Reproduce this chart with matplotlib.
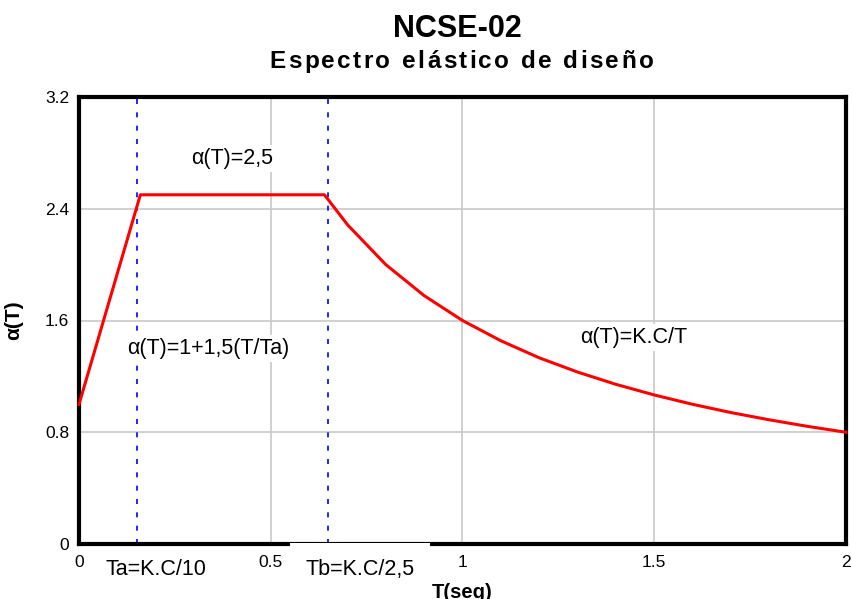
import matplotlib.pyplot as plt
import numpy as np

# Spectrum polyline (T in seconds, alpha)
T_VALUES = [0.0, 0.16, 0.64, 0.7, 0.8, 0.9, 1.0, 1.1, 1.2, 1.3, 1.4, 1.5, 1.6, 1.7, 1.8, 1.9, 2.0]
ALPHA_VALUES = [1.0, 2.5, 2.5, 2.286, 2.0, 1.778, 1.6, 1.455, 1.333, 1.231, 1.143, 1.067, 1.0,
                0.941, 0.889, 0.842, 0.8]

TA_LINE = 0.15
TB_LINE = 0.65

X_TICKS = [0, 0.5, 1, 1.5, 2]
X_TICK_LABELS = ["0", "0.5", "1", "1.5", "2"]
Y_TICKS = [0, 0.8, 1.6, 2.4, 3.2]
Y_TICK_LABELS = ["0", "0.8", "1.6", "2.4", "3.2"]

TITLE = "NCSE-02"
SUBTITLE = "Espectro elástico de diseño"

plt.rcParams["font.family"] = ["Liberation Sans", "DejaVu Sans"]


def spaced_text(fig, xc, y, text, extra_px, **kw):
    # draw text char by char with some extra tracking, centred on xc (figure fraction)
    renderer = fig.canvas.get_renderer()
    fig_w = fig.bbox.width
    widths = []
    for ch in text:
        probe = fig.text(0, 0, ch if ch != " " else "a a", **kw)
        w = probe.get_window_extent(renderer).width
        if ch == " ":
            w -= 2 * fig.text(0, 0, "a", **kw).get_window_extent(renderer).width
            fig.texts[-1].remove()
        widths.append(w)
        probe.remove()
    total = sum(widths) + extra_px * (len(text) - 1)
    x = xc * fig_w - total / 2
    for ch, w in zip(text, widths):
        fig.text(x / fig_w, y, ch, ha="left", va="center", **kw)
        x += w + extra_px


fig = plt.figure(figsize=(8.53, 5.99), dpi=100)
ax = fig.add_axes([79 / 853, 55 / 599, 767 / 853, 447 / 599])

ax.set_xlim(0, 2)
ax.set_ylim(0, 3.2)
ax.set_xticks(X_TICKS)
ax.set_xticklabels(X_TICK_LABELS)
ax.set_yticks(Y_TICKS)
ax.set_yticklabels(Y_TICK_LABELS)
ax.tick_params(axis="x", length=0, labelsize=12.5, pad=8)
ax.tick_params(axis="y", length=0, labelsize=12.5, pad=7)
ax.grid(True, color="#c8c8c8", linewidth=1.2)
ax.set_axisbelow(True)
for spine in ax.spines.values():
    spine.set_linewidth(3)
    spine.set_zorder(3)

ax.axvline(TA_LINE, color="blue", linestyle=(0, (3, 5)), linewidth=1.2, zorder=2)
ax.axvline(TB_LINE, color="blue", linestyle=(0, (3, 5)), linewidth=1.2, zorder=2)

ax.plot(T_VALUES, ALPHA_VALUES, color="red", linewidth=2.2, zorder=4, clip_on=False)

box = dict(facecolor="white", edgecolor="none", pad=2)
ax.text(0.40, 2.76, "α(T)=2,5", fontsize=15.5, ha="center", va="center", bbox=box, zorder=2.5)
ax.text(0.338, 1.40, "α(T)=1+1,5(T/Ta)", fontsize=15.5, ha="center", va="center", bbox=box, zorder=2.5)
ax.text(1.447, 1.48, "α(T)=K.C/T", fontsize=15.5, ha="center", va="center", bbox=box, zorder=2.5)
ax.text(0.20, -0.18, "Ta=K.C/10", fontsize=15.5, ha="center", va="center", clip_on=False)
ax.text(0.733, -0.18, "Tb=K.C/2,5", fontsize=15.5, ha="center", va="center", clip_on=False,
        bbox=dict(facecolor="white", edgecolor="none", pad=11), zorder=5)

ax.set_xlabel("T(seg)", fontsize=14.5, fontweight="bold", labelpad=9)
ax.set_ylabel("α(T)", fontsize=15, fontweight="bold", labelpad=16)

fig.text(0.536, 0.952, TITLE, fontsize=22, fontweight="bold", ha="center", va="center")
spaced_text(fig, 0.541, 0.898, SUBTITLE, 2.4, fontsize=17.5, fontweight="bold")

fig.savefig("out.png", dpi=100)
